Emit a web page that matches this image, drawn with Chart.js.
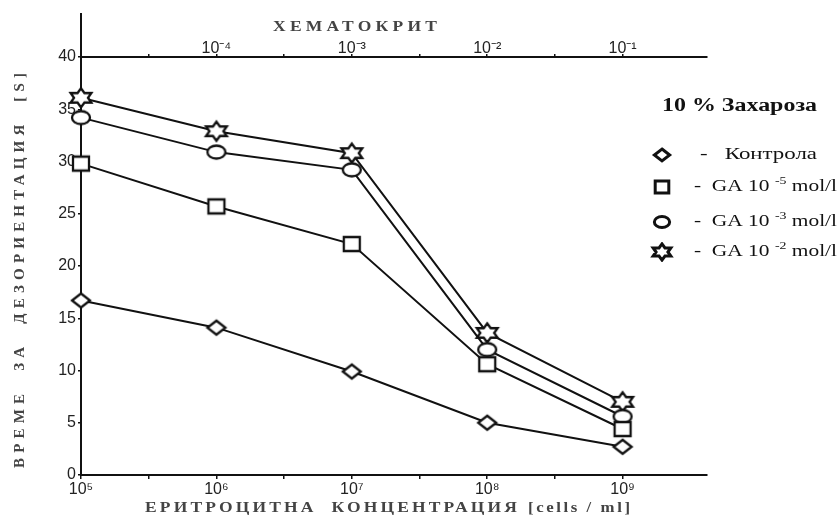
<!DOCTYPE html>
<html>
<head>
<meta charset="utf-8">
<script src="https://cdn.jsdelivr.net/npm/chart.js@4"></script>
<style>
  html, body { margin: 0; padding: 0; background: #fff; }
  #wrap { width: 840px; height: 526px; }
</style>
</head>
<body>
<div id="wrap"><canvas id="chart" width="840" height="526"></canvas></div>
<script>
// data
const concentrations = [1e5, 1e6, 1e7, 1e8, 1e9];
const control = [16.7, 14.1, 9.9, 5.0, 2.7];
const ga5 = [29.8, 25.7, 22.1, 10.6, 4.4];
const ga3 = [34.2, 30.9, 29.2, 12.0, 5.6];
const ga2 = [36.1, 32.9, 30.8, 13.6, 7.0];

const bottomTickValues = [1e5, 1e6, 1e7, 1e8, 1e9];
const bottomTickLabels = ["10\u2075", "10\u2076", "10\u2077", "10\u2078", "10\u2079"];
const topTickValues = [1e-4, 1e-3, 1e-2, 1e-1];
const topTickLabels = ["10\u207B\u2074", "10\u207B\u00B3", "10\u207B\u00B2", "10\u207B\u00B9"];
const yTickValues = [0, 5, 10, 15, 20, 25, 30, 35, 40];

const legendTitle = "10 % Захароза";
const seriesNames = [
  [{ t: "-   Контрола" }],
  [{ t: "-  GA 10 " }, { t: "-5", sup: true }, { t: " mol/l" }],
  [{ t: "-  GA 10 " }, { t: "-3", sup: true }, { t: " mol/l" }],
  [{ t: "-  GA 10 " }, { t: "-2", sup: true }, { t: " mol/l" }]
];
const xTitle = "ЕРИТРОЦИТНА  КОНЦЕНТРАЦИЯ";
const xUnit = "[cells / ml]";
const x2Title = "ХЕМАТОКРИТ";
const yTitle = "ВРЕМЕ  ЗА  ДЕЗОРИЕНТАЦИЯ  [S]";

// marker images (source figure is stretched sideways, so the marks are wider than tall)
function makeMarker(kind, k, lw) {
  const c = document.createElement("canvas");
  const w = Math.round(30 * k), h = Math.round(24 * k);
  c.width = w; c.height = h;
  const g = c.getContext("2d");
  g.fillStyle = "#fff";
  g.strokeStyle = "#111";
  g.lineWidth = lw;
  const mx = w / 2, my = h / 2;
  g.beginPath();
  if (kind === "diamond") {
    g.moveTo(mx, my - 7 * k); g.lineTo(mx + 9 * k, my); g.lineTo(mx, my + 7 * k); g.lineTo(mx - 9 * k, my); g.closePath();
  } else if (kind === "square") {
    g.rect(mx - 8 * k, my - 7 * k, 16 * k, 14 * k);
  } else if (kind === "circle") {
    g.ellipse(mx, my, 9 * k, 6.5 * k, 0, 0, Math.PI * 2);
  } else {
    for (let i = 0; i < 12; i++) {
      const r = i % 2 === 0 ? 1 : 0.58;
      const a = -Math.PI / 2 + i * Math.PI / 6;
      const px = mx + r * 12 * k * Math.cos(a), py = my + r * 9.5 * k * Math.sin(a);
      if (i === 0) g.moveTo(px, py); else g.lineTo(px, py);
    }
    g.closePath();
  }
  g.fill();
  g.stroke();
  return c;
}
const kinds = ["diamond", "square", "circle", "star"];
const markers = kinds.map(k => makeMarker(k, 1, 2.3));
const legendMarkers = kinds.map(k => makeMarker(k, 0.85, 3));

function toPoints(ys) {
  return concentrations.map((x, i) => ({ x: x, y: ys[i] }));
}

function halfDecades(from, to) {
  const out = [];
  for (let e = from; e <= to; e++) {
    out.push({ value: Math.pow(10, e) });
    if (e < to) out.push({ value: Math.pow(10, e + 0.5) });
  }
  return out;
}

// spaced title text fitted between x0 and x1 (glyphs widened by sx)
function spacedText(ctx, text, x0, x1, y, sx) {
  ctx.save();
  ctx.letterSpacing = "0px";
  const w0 = ctx.measureText(text).width;
  const ls = ((x1 - x0) / sx - w0) / (text.length - 1);
  ctx.letterSpacing = ls + "px";
  ctx.translate(x0, y);
  ctx.scale(sx, 1);
  ctx.textAlign = "left";
  ctx.fillText(text, 0, 0);
  ctx.restore();
}

// text (with optional superscripts) widened to span x0..x1
function richText(ctx, parts, x0, x1, y, big, small) {
  let w = 0;
  parts.forEach(p => { ctx.font = p.sup ? small : big; w += ctx.measureText(p.t).width; });
  ctx.save();
  ctx.translate(x0, y);
  ctx.scale((x1 - x0) / w, 1);
  let x = 0;
  parts.forEach(p => {
    ctx.font = p.sup ? small : big;
    ctx.fillText(p.t, x, p.sup ? -6 : 0);
    x += ctx.measureText(p.t).width;
  });
  ctx.restore();
}

const decor = {
  id: "decor",
  afterDraw(chart) {
    const ctx = chart.ctx;
    const a = chart.chartArea;
    ctx.save();
    // y axis extends above the top axis
    ctx.strokeStyle = "#111";
    ctx.lineWidth = 2;
    ctx.beginPath();
    ctx.moveTo(a.left, 13);
    ctx.lineTo(a.left, a.top);
    ctx.stroke();

    // axis titles
    ctx.fillStyle = "#444";
    ctx.textBaseline = "middle";
    ctx.font = "bold 14px 'Liberation Serif'";
    spacedText(ctx, x2Title, 273, 437, 27, 1.25);
    spacedText(ctx, xTitle, 145, 517, 508, 1.25);
    ctx.font = "bold 14px 'Liberation Serif'";
    spacedText(ctx, xUnit, 528, 630, 508, 1.2);

    ctx.save();
    ctx.translate(20, 0);
    ctx.rotate(-Math.PI / 2);
    ctx.font = "bold 15px 'Liberation Serif'";
    spacedText(ctx, yTitle, -468, -73, 0, 1.0);
    ctx.restore();

    // legend
    ctx.fillStyle = "#111";
    ctx.textAlign = "left";
    richText(ctx, [{ t: legendTitle }], 662, 817, 106, "bold 18px 'Liberation Serif'", "");
    const rows = [155, 187, 222, 252];
    const big = "17px 'Liberation Serif'", small = "11px 'Liberation Serif'";
    rows.forEach((y, i) => {
      const img = legendMarkers[i];
      ctx.drawImage(img, 662 - img.width / 2, y - img.height / 2);
      if (i === 0) richText(ctx, seriesNames[i], 700, 817, y, big, small);
      else richText(ctx, seriesNames[i], 694, 837, y, big, small);
    });
    ctx.restore();
  }
};

const lineStyle = {
  borderColor: "#111",
  borderWidth: 2,
  tension: 0,
  clip: false
};

new Chart(document.getElementById("chart"), {
  type: "line",
  data: {
    datasets: [control, ga5, ga3, ga2].map((ys, i) => Object.assign({
      label: "s" + i,
      data: toPoints(ys),
      pointStyle: markers[i],
      xAxisID: "x",
      yAxisID: "y"
    }, lineStyle))
  },
  options: {
    responsive: false,
    animation: false,
    layout: { padding: { left: 0, right: 133, top: 0, bottom: 0 } },
    plugins: { legend: { display: false }, tooltip: { enabled: false } },
    scales: {
      x: {
        type: "logarithmic",
        position: "bottom",
        min: 1e5,
        max: 4.2e9,
        afterBuildTicks(scale) { scale.ticks = halfDecades(5, 9); },
        afterFit(scale) { scale.height = 51; },
        ticks: {
          autoSkip: false,
          maxRotation: 0,
          padding: 1,
          color: "#222",
          font: { family: "'Liberation Sans'", size: 16 },
          callback(v) {
            const k = bottomTickValues.findIndex(t => Math.abs(Math.log10(t) - Math.log10(v)) < 1e-6);
            return k >= 0 ? bottomTickLabels[k] : "";
          }
        },
        grid: { drawOnChartArea: false, tickLength: 4, color: "#111", lineWidth: 1.5 },
        border: { color: "#111", width: 2 }
      },
      x2: {
        type: "logarithmic",
        position: "top",
        min: 1e-5,
        max: 4.2e-1,
        afterBuildTicks(scale) { scale.ticks = halfDecades(-5, -1); },
        afterFit(scale) { scale.height = 57; },
        ticks: {
          autoSkip: false,
          maxRotation: 0,
          padding: -4,
          color: "#222",
          font: { family: "'Liberation Sans'", size: 16 },
          callback(v) {
            const k = topTickValues.findIndex(t => Math.abs(Math.log10(t) - Math.log10(v)) < 1e-6);
            return k >= 0 ? topTickLabels[k] : "";
          }
        },
        grid: { drawOnChartArea: false, tickLength: 3, color: "#111", lineWidth: 1.5 },
        border: { color: "#111", width: 2 }
      },
      y: {
        min: 0,
        max: 40,
        afterBuildTicks(scale) { scale.ticks = yTickValues.map(v => ({ value: v })); },
        afterFit(scale) { scale.width = 81; },
        ticks: {
          padding: 2,
          color: "#222",
          font: { family: "'Liberation Sans'", size: 16 }
        },
        grid: { drawOnChartArea: false, tickLength: 3, color: "#111", lineWidth: 1.5 },
        border: { color: "#111", width: 2 }
      }
    }
  },
  plugins: [decor]
});
</script>
</body>
</html>
